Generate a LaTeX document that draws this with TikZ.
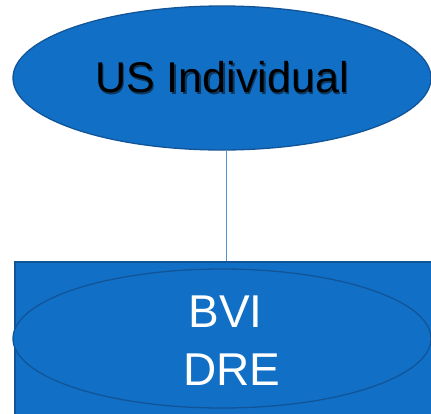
\documentclass[tikz,border=0pt]{standalone}
\usepackage{fontspec}
\setmainfont{Liberation Sans}
\usetikzlibrary{shapes.geometric}
\definecolor{boxblue}{RGB}{17,112,198}
\definecolor{edgeblue}{RGB}{18,84,152}
\definecolor{linkblue}{RGB}{80,150,215}
\definecolor{shade}{RGB}{12,55,95}
% label with a soft drop shadow set behind it
\newcommand{\shadowtext}[1]{\makebox[0pt][l]{\hspace{1.4pt}\raisebox{-1.4pt}{\textcolor{shade}{#1}}}#1}
\begin{document}
\begin{tikzpicture}[x=1pt,y=-1pt,
  blob/.style={ellipse, draw=edgeblue, fill=boxblue, line width=1.3pt, inner sep=0pt},
  frame/.style={rectangle, draw=edgeblue, fill=boxblue, line width=1.5pt, inner sep=0pt},
  bigtext/.style={font=\fontsize{43}{43}\selectfont, text=black},
  whitetext/.style={font=\fontsize{46}{58}\selectfont, text=white, align=center, inner sep=0pt}]
\useasboundingbox (0,0) rectangle (431,413);
\clip (0,0) rectangle (431,413);

% top party
\node[blob, minimum width=418pt, minimum height=144pt] (us) at (222,78) {};
\node[bigtext] (uslabel) at (us) {\shadowtext{US Individual}};

% entity box with its oval
\node[frame, anchor=north, minimum width=423.4pt, minimum height=200pt] (dre) at (226.7,261) {};
\node[blob, minimum width=418pt, minimum height=139pt] (dreoval) at (222,338.5) {};
\node[whitetext] (drelabel) at (232,340.5) {BVI\hspace*{0.278em}\\DRE};

% ownership link
\draw[linkblue, line width=0.9pt] (us.south -| dre.north) -- (dre.north);
\end{tikzpicture}
\end{document}
